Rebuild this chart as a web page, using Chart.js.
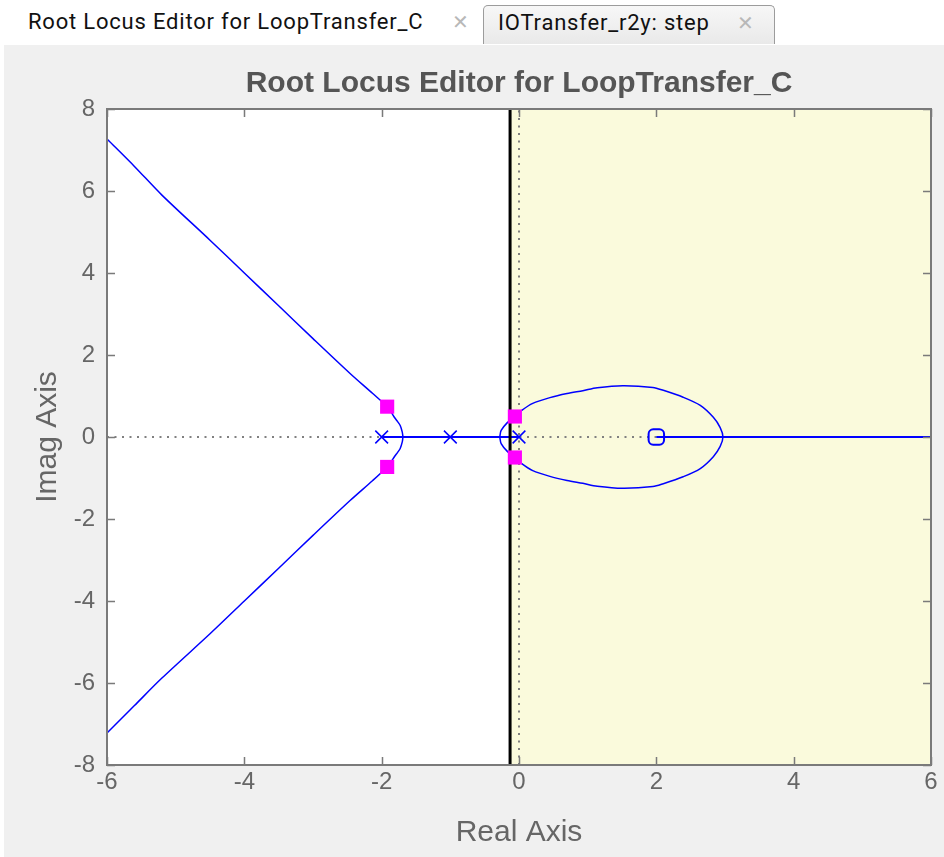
<!DOCTYPE html>
<html>
<head>
<meta charset="utf-8">
<script src="https://cdn.jsdelivr.net/npm/chart.js@4.4.1/dist/chart.umd.min.js"></script>
<style>
  html, body { margin: 0; padding: 0; background: #ffffff; }
  body { width: 944px; height: 857px; position: relative; overflow: hidden; font-family: Roboto, "Noto Sans", sans-serif; }
  #tabs { position: absolute; left: 0; top: 0; width: 944px; height: 45px; background: #ffffff; }
  .tab { position: absolute; top: 0; height: 45px; font-size: 22px; letter-spacing: 0.8px; color: #111; }
  .tab .lbl { position: absolute; top: 9px; white-space: nowrap; }
  .tab .x { position: absolute; top: 10px; color: #b8b8b8; font-size: 20px; letter-spacing: 0; }
  #tab1 { left: 0; width: 482px; background: #ffffff; }
  #tab2 { left: 483px; top: 5px; width: 290px; height: 38px; border: 1px solid #9c9c9c; border-bottom: none;
          border-radius: 5px 5px 0 0; background: linear-gradient(#f7f7f7, #e9e9e9); }
  #tab2 .lbl { top: 4px; }
  #tab2 .x { top: 5px; }
  #wrap { position: absolute; left: 4px; top: 45px; width: 940px; height: 812px; background: #f0f0f0; }
  #c { display: block; }
</style>
</head>
<body>
<div id="tabs">
  <div class="tab" id="tab1"><span class="lbl" style="left:28px">Root Locus Editor for LoopTransfer_C</span><span class="x" style="left:452px">&#x2715;</span></div>
  <div class="tab" id="tab2"><span class="lbl" style="left:14px">IOTransfer_r2y: step</span><span class="x" style="left:253px">&#x2715;</span></div>
</div>
<div id="wrap"><canvas id="c" width="940" height="812"></canvas></div>
<script>
// ---- title ----
const chartTitle = 'Root Locus Editor for LoopTransfer_C';

// ---- tick labels / axis ranges ----
const xTicks = [-6, -4, -2, 0, 2, 4, 6];
const yTicks = [-8, -6, -4, -2, 0, 2, 4, 6, 8];

// ---- open-loop poles and zeros ----
const poleX = [-2, -1, 0];
const poleY = [0, 0, 0];
const zeroX = [2];
const zeroY = [0];

// ---- current closed-loop poles (magenta) ----
const clX = [-1.92, -1.92, -0.06, -0.06];
const clY = [0.74, -0.73, 0.5, -0.5];

// ---- constraint boundary (settling time) ----
const boundX = -0.13;

// ---- real-axis locus segments ----
const seg1X = [-2, 0];
const seg1Y = [0, 0];
const seg2X = [2, 6];
const seg2Y = [0, 0];

// ---- upper-left branch ----
const upLeftX = [-1.69, -1.70, -1.73, -1.77, -1.81, -1.86, -1.92, -2.13, -2.46, -3.0, -3.5, -4.0, -4.5, -5.2, -5.6, -6.0];
const upLeftY = [0, 0.12, 0.28, 0.38, 0.47, 0.60, 0.74, 1.06, 1.55, 2.40, 3.20, 4.00, 4.80, 5.90, 6.60, 7.27];
// ---- lower-left branch ----
const loLeftX = [-1.69, -1.70, -1.73, -1.77, -1.81, -1.86, -1.92, -2.13, -2.46, -3.0, -3.5, -4.0, -4.5, -5.2, -5.6, -6.0];
const loLeftY = [0, -0.12, -0.28, -0.38, -0.47, -0.60, -0.73, -1.06, -1.55, -2.40, -3.20, -4.00, -4.80, -5.88, -6.55, -7.22];

// ---- closed loop around the origin / zero ----
const loopX = [-0.28, -0.26, -0.17, -0.06, 0.04, 0.20, 0.45, 0.70, 0.93, 1.14, 1.51, 1.95, 2.10, 2.39, 2.64, 2.83, 2.93, 2.97,
               2.93, 2.83, 2.64, 2.39, 2.10, 1.95, 1.51, 1.14, 0.93, 0.70, 0.45, 0.20, 0.04, -0.06, -0.17, -0.26, -0.28];
const loopY = [0, 0.16, 0.35, 0.50, 0.65, 0.82, 0.96, 1.06, 1.13, 1.20, 1.25, 1.21, 1.14, 0.97, 0.77, 0.48, 0.23, 0,
               -0.23, -0.48, -0.77, -0.97, -1.14, -1.21, -1.25, -1.20, -1.13, -1.06, -0.96, -0.82, -0.65, -0.50, -0.35, -0.16, 0];

const pts = (xs, ys) => xs.map((x, i) => ({x: x, y: ys[i]}));

const BLUE = '#0000ff';
const FONT = '"Liberation Sans", Arial, Helvetica, sans-serif';
Chart.defaults.font.family = FONT;

const frame = {
  id: 'frame',
  beforeDraw(chart) {
    const {ctx, chartArea: a, scales} = chart;
    ctx.save();
    ctx.fillStyle = '#ffffff';
    ctx.fillRect(a.left, a.top, a.right - a.left, a.bottom - a.top);
    const xb = scales.x.getPixelForValue(boundX);
    ctx.fillStyle = '#fafadc';
    ctx.fillRect(xb, a.top, a.right - xb, a.bottom - a.top);
    ctx.restore();
  },
  afterDraw(chart) {
    const {ctx, chartArea: a, scales} = chart;
    ctx.save();
    ctx.strokeStyle = '#7a7a7a';
    ctx.lineWidth = 1.5;
    const L = 8;
    ctx.beginPath();
    xTicks.forEach(v => {
      const p = Math.round(scales.x.getPixelForValue(v)) + 0.5;
      ctx.moveTo(p, a.bottom); ctx.lineTo(p, a.bottom - L);
      ctx.moveTo(p, a.top); ctx.lineTo(p, a.top + L);
    });
    yTicks.forEach(v => {
      const p = Math.round(scales.y.getPixelForValue(v)) + 0.5;
      ctx.moveTo(a.left, p); ctx.lineTo(a.left + L, p);
      ctx.moveTo(a.right, p); ctx.lineTo(a.right - L, p);
    });
    ctx.stroke();
    ctx.lineWidth = 2;
    ctx.strokeRect(a.left, a.top, a.right - a.left, a.bottom - a.top);
    // title, centred over the axes box
    ctx.fillStyle = '#555555';
    ctx.font = 'bold 30px ' + FONT;
    ctx.textAlign = 'center';
    ctx.textBaseline = 'middle';
    ctx.fillText(chartTitle, (a.left + a.right) / 2, 39);
    ctx.restore();
  }
};

const lineDs = (data, color, width, extra) => Object.assign({
  data: data, showLine: true, borderColor: color, borderWidth: width,
  pointRadius: 0, fill: false, tension: 0.3
}, extra || {});

new Chart(document.getElementById('c'), {
  type: 'scatter',
  data: {
    datasets: [
      { data: pts(clX, clY), pointStyle: 'rect', pointRadius: 10, backgroundColor: '#ff00ff', borderColor: '#ff00ff', borderWidth: 0, showLine: false },
      { data: pts(poleX, poleY), pointStyle: 'crossRot', pointRadius: 9, borderColor: BLUE, borderWidth: 1.5, showLine: false },
      { data: pts(zeroX, zeroY), pointStyle: 'rectRounded', pointRadius: 9, borderColor: BLUE, backgroundColor: 'rgba(0,0,0,0)', borderWidth: 2, showLine: false },
      lineDs(pts([boundX, boundX], [-8, 8]), '#000000', 3, {tension: 0}),
      lineDs(pts(upLeftX, upLeftY), BLUE, 1.5),
      lineDs(pts(loLeftX, loLeftY), BLUE, 1.5),
      lineDs(pts(loopX, loopY), BLUE, 1.5),
      lineDs(pts(seg1X, seg1Y), BLUE, 2, {tension: 0}),
      lineDs(pts(seg2X, seg2Y), BLUE, 2, {tension: 0}),
      lineDs(pts([-6, 6], [0, 0]), '#808080', 2, {tension: 0, borderDash: [2, 5.5]}),
      lineDs(pts([0, 0], [-8, 8]), '#808080', 2, {tension: 0, borderDash: [2, 5.5]})
    ]
  },
  options: {
    responsive: false,
    animation: false,
    layout: { padding: { left: 0, right: 13, top: 64, bottom: 0 } },
    plugins: {
      legend: { display: false },
      tooltip: { enabled: false },
      title: { display: false }
    },
    scales: {
      x: {
        type: 'linear', min: -6, max: 6,
        afterBuildTicks: s => { s.ticks = xTicks.map(v => ({value: v})); },
        afterFit: s => { s.height = 92; },
        ticks: { color: '#666666', font: { size: 24, family: FONT }, padding: 3 },
        grid: { display: false, drawTicks: false },
        border: { display: false },
        title: { display: true, text: 'Real Axis', color: '#666666', font: { size: 30, family: FONT, lineHeight: 1.2 }, padding: { top: 0, bottom: 6 } }
      },
      y: {
        type: 'linear', min: -8, max: 8,
        afterBuildTicks: s => { s.ticks = yTicks.map(v => ({value: v})); },
        afterFit: s => { s.width = 103; },
        ticks: { color: '#666666', font: { size: 24, family: FONT }, padding: 12 },
        grid: { display: false, drawTicks: false },
        border: { display: false },
        title: { display: true, text: 'Imag Axis', color: '#666666', font: { size: 30, family: FONT, lineHeight: 1.2 }, padding: { top: 26, bottom: 0 } }
      }
    }
  },
  plugins: [frame]
});
</script>
</body>
</html>
